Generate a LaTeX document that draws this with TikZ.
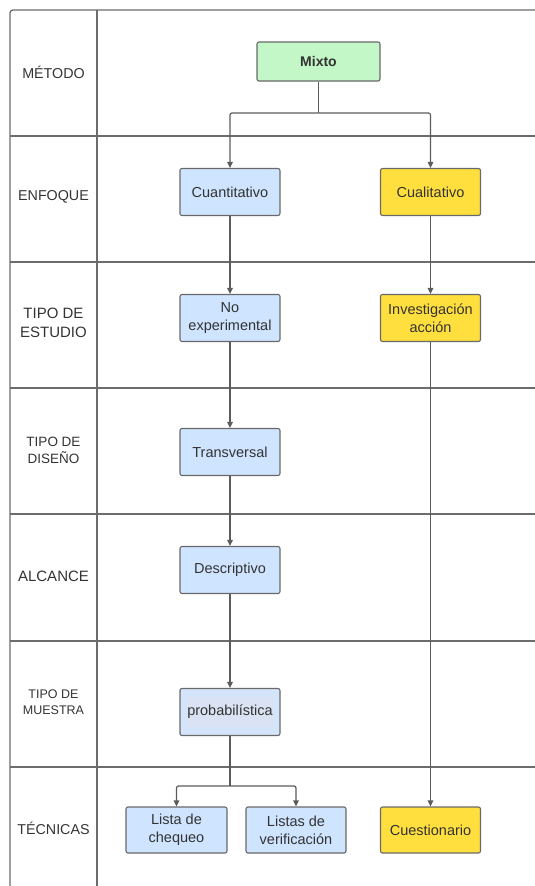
\documentclass[tikz,border=0pt]{standalone}
\usepackage{fontspec}
\setmainfont{Liberation Sans}
\usetikzlibrary{arrows.meta}
\definecolor{gridline}{RGB}{108,108,108}
\definecolor{wire}{RGB}{92,92,92}
\definecolor{boxedge}{RGB}{105,105,105}
\definecolor{ink}{RGB}{51,51,51}
\definecolor{mixgreen}{RGB}{195,247,200}
\definecolor{quantblue}{RGB}{207,228,255}
\definecolor{probblue}{RGB}{212,228,250}
\definecolor{probtext}{RGB}{218,227,243}
\definecolor{qualyellow}{RGB}{255,223,61}
\tikzset{
  grid line/.style={draw=gridline, line width=1.3pt},
  flowbox/.style={draw=boxedge, line width=1.1pt, rounded corners=2pt,
    minimum width=100pt, minimum height=47pt, inner sep=2pt,
    align=center, text=ink, font=\fontsize{14.5}{18}\selectfont},
  quant/.style={flowbox, fill=quantblue},
  qual/.style={flowbox, fill=qualyellow},
  rowlabel/.style={align=center, text=ink, font=\fontsize{14.3}{18}\selectfont},
  wirearrow/.style={draw=wire, line width=1.2pt,
    -{Triangle[length=6pt,width=5.5pt]}},
  wireplain/.style={draw=wire, line width=1.2pt}
}
\begin{document}
\begin{tikzpicture}[x=1pt,y=-1pt]
\useasboundingbox (0,0) rectangle (535,886);

% table frame and rows
\draw[grid line, rounded corners=3pt] (10,886) -- (10,10) -- (535,10);
\draw[grid line] (97,10) -- (97,886);
\foreach \yy in {136,262,388,514,641,767}
  \draw[grid line] (10,\yy) -- (535,\yy);

% row labels
\node[rowlabel] (lmetodo) at (53.5,72) {MÉTODO};
\node[rowlabel] (lenfoque) at (53.5,197) {ENFOQUE};
\node[rowlabel, font=\fontsize{15}{19}\selectfont] (lestudio) at (53.5,323) {TIPO DE\\ESTUDIO};
\node[rowlabel, font=\fontsize{13.5}{17}\selectfont] (ldiseno) at (53.5,450) {TIPO DE\\DISEÑO};
\node[rowlabel, font=\fontsize{15}{19}\selectfont] (lalcance) at (53.5,576) {ALCANCE};
\node[rowlabel, font=\fontsize{12.5}{16}\selectfont] (lmuestra) at (53.5,702) {TIPO DE\\MUESTRA};
\node[rowlabel] (ltecnicas) at (53.5,828) {TÉCNICAS};

% boxes
\node[flowbox, fill=mixgreen, minimum width=123pt, minimum height=39pt,
      font=\fontsize{14}{18}\selectfont\bfseries] (mixto) at (318.5,61.5) {Mixto};
\node[quant] (cuant) at (230,192) {Cuantitativo};
\node[qual]  (cual)  at (430.5,192) {Cualitativo};
\node[quant] (noexp) at (230,318) {No\\experimental};
\node[qual]  (inv)   at (430.5,318) {Investigación\\acción};
\node[quant] (trans) at (230,452) {Transversal};
\node[quant] (desc)  at (230,570) {Descriptivo};
\node[flowbox, fill=probblue] (prob) at (230,712) {};
\fill[probtext] (prob.center) ++(-44,-15) rectangle ++(88,30);
\node[rowlabel, font=\fontsize{14.5}{18}\selectfont, inner sep=0pt] (probtxt) at (prob.center) {probabilística};
\node[quant, minimum width=101pt, minimum height=46pt] (lista)  at (176.5,830) {Lista de\\chequeo};
\node[quant, minimum width=100pt, minimum height=46pt] (listas) at (296,830) {Listas de\\verificación};
\node[qual, minimum height=46pt] (cuest) at (430.5,830) {Cuestionario};

% connectors
\coordinate (split) at (mixto.south |- 0,113);
\draw[wireplain] (mixto.south) -- (split);
\draw[wirearrow, rounded corners=2pt] (split) -| (cuant.north);
\draw[wirearrow, rounded corners=2pt] (split) -| (cual.north);
\draw[wirearrow] (cuant) -- (noexp);
\draw[wirearrow] (cual) -- (inv);
\draw[wirearrow] (noexp) -- (trans);
\draw[wirearrow] (trans) -- (desc);
\draw[wirearrow] (desc) -- (prob);
\draw[wirearrow] (inv) -- (cuest);
\coordinate (fork) at (prob.south |- 0,786);
\draw[wireplain] (prob.south) -- (fork);
\draw[wirearrow, rounded corners=2pt] (fork) -| (lista.north);
\draw[wirearrow, rounded corners=2pt] (fork) -| (listas.north);
\end{tikzpicture}
\end{document}
